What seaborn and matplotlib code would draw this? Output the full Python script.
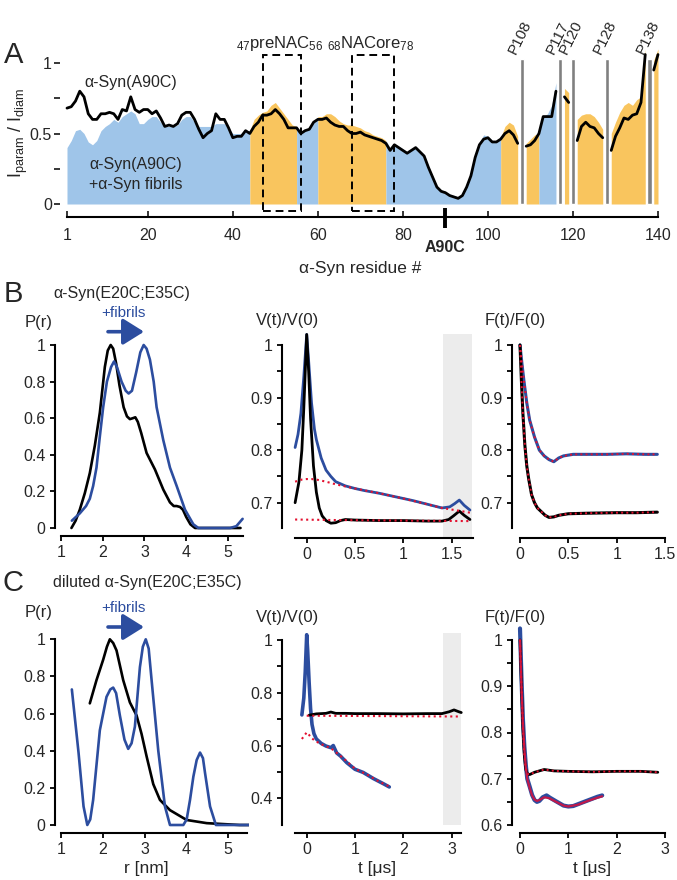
import numpy as np
import matplotlib
matplotlib.use("Agg")
import matplotlib.pyplot as plt
from matplotlib.patches import Rectangle, FancyArrowPatch
from matplotlib.ticker import FuncFormatter
import seaborn as sns

nan = np.nan

# ---------------- panel A: I_param / I_diam per residue ----------------
residues = np.arange(1, 141)
ratio_free = [
    0.68, 0.69, 0.73, 0.80, 0.76, 0.64, 0.60, 0.60, 0.64, 0.64,
    0.65, 0.64, 0.60, 0.67, 0.66, 0.76, 0.67, 0.65, 0.67, 0.67,
    0.64, 0.66, 0.61, 0.55, 0.56, 0.55, 0.57, 0.63, 0.65, 0.65,
    0.60, 0.53, 0.47, 0.50, 0.52, 0.64, 0.60, 0.60, 0.54, 0.47,
    0.48, 0.48, 0.52, 0.50, 0.55, 0.58, 0.63, 0.63, 0.64, 0.67,
    0.64, 0.60, 0.54, 0.54, 0.54, 0.50, 0.52, 0.53, 0.58, 0.60,
    0.60, 0.61, 0.58, 0.56, 0.55, 0.55, 0.52, 0.50, 0.50, 0.51,
    0.49, 0.48, 0.47, 0.46, 0.45, 0.43, 0.38, 0.42, 0.40, 0.38,
    0.36, 0.38, 0.40, 0.37, 0.34, 0.26, 0.19, 0.12, 0.09, 0.08,
    0.06, 0.05, 0.04, 0.06, 0.12, 0.20, 0.33, 0.42, 0.46, 0.47,
    0.44, 0.44, 0.46, 0.50, 0.52, 0.49, 0.43, nan, 0.41, 0.42,
    0.45, 0.50, 0.62, 0.62, 0.62, 0.80, nan, 0.76, 0.72, nan,
    0.45, 0.55, 0.58, 0.55, 0.54, 0.50, 0.47, nan, 0.38, 0.48,
    0.54, 0.61, 0.60, 0.63, 0.64, 0.72, 1.06, nan, 0.95, 1.06,
]
ratio_fibrils = [
    0.40, 0.45, 0.52, 0.53, 0.50, 0.44, 0.42, 0.45, 0.52, 0.55,
    0.57, 0.60, 0.58, 0.62, 0.64, 0.66, 0.64, 0.57, 0.57, 0.60,
    0.62, 0.62, 0.58, 0.55, 0.55, 0.55, 0.56, 0.60, 0.62, 0.62,
    0.58, 0.55, 0.55, 0.55, 0.55, 0.57, 0.57, 0.57, 0.54, 0.50,
    0.50, 0.50, 0.52, 0.52, 0.60, 0.63, 0.65, 0.66, 0.70, 0.72,
    0.68, 0.64, 0.60, 0.56, 0.55, 0.51, 0.52, 0.53, 0.58, 0.62,
    0.62, 0.64, 0.64, 0.62, 0.59, 0.57, 0.56, 0.56, 0.55, 0.54,
    0.52, 0.51, 0.49, 0.48, 0.47, 0.45, 0.40, 0.42, 0.41, 0.39,
    0.37, 0.39, 0.41, 0.38, 0.35, 0.27, 0.20, 0.13, 0.10, 0.09,
    0.07, 0.06, 0.05, 0.07, 0.13, 0.22, 0.35, 0.44, 0.49, 0.48,
    0.45, 0.45, 0.47, 0.55, 0.58, 0.56, 0.48, nan, 0.43, 0.46,
    0.49, 0.50, 0.62, 0.64, 0.70, 0.86, nan, 0.82, 0.79, nan,
    0.60, 0.63, 0.64, 0.64, 0.62, 0.58, 0.53, nan, 0.50, 0.58,
    0.65, 0.70, 0.72, 0.70, 0.74, 0.76, 1.10, nan, 1.02, 1.10,
]
# (first residue, last residue, region type) of the coloured fill
fill_segments = [(1, 44, 'blue'), (44, 55, 'orange'), (55, 60, 'blue'), (60, 76, 'orange'),
                 (76, 103, 'blue'), (103, 107, 'orange'), (109, 112, 'orange'), (112, 116, 'blue'),
                 (118, 119, 'orange'), (121, 127, 'orange'), (129, 137, 'orange'), (139, 140, 'orange')]
prolines = [108, 117, 120, 128, 138]
peptide_boxes = [(47, 56, r'$_{47}$preNAC$_{56}$'), (68, 78, r'$_{68}$NACore$_{78}$')]
res_ticks = [1, 20, 40, 60, 80, 100, 120, 140]
label_site = 90

# ---------------- panel B: alpha-Syn(E20C;E35C) ----------------
rB_free = [1.25, 1.35, 1.45, 1.57, 1.69, 1.81, 1.93, 2.05, 2.12, 2.19, 2.25, 2.32, 2.40, 2.50, 2.58,
           2.65, 2.72, 2.78, 2.84, 2.92, 3.05, 3.25, 3.45, 3.61, 3.70, 3.77, 3.85, 3.92, 4.00, 4.10,
           4.21, 4.60, 5.00, 5.30]
pB_free = [0.00, 0.04, 0.10, 0.19, 0.30, 0.45, 0.63, 0.88, 0.97, 1.00, 0.98, 0.90, 0.78, 0.66, 0.61,
           0.595, 0.60, 0.605, 0.58, 0.52, 0.41, 0.32, 0.21, 0.14, 0.12, 0.12, 0.115, 0.10, 0.06, 0.02,
           0.00, 0.00, 0.00, 0.00]
rB_fib = [1.26, 1.45, 1.60, 1.69, 1.77, 1.85, 1.93, 2.01, 2.10, 2.20, 2.27, 2.34, 2.45, 2.55, 2.62,
          2.70, 2.80, 2.90, 2.98, 3.05, 3.13, 3.22, 3.29, 3.45, 3.61, 3.77, 3.97, 4.17, 4.29, 5.05,
          5.20, 5.35]
pB_fib = [0.04, 0.08, 0.12, 0.16, 0.23, 0.33, 0.50, 0.66, 0.80, 0.88, 0.91, 0.88, 0.80, 0.75, 0.735,
          0.75, 0.85, 0.96, 1.00, 0.98, 0.92, 0.80, 0.66, 0.48, 0.33, 0.23, 0.10, 0.02, 0.00, 0.00,
          0.01, 0.05]

tVB_fib = [-0.12, -0.09, -0.06, -0.03, 0.0, 0.02, 0.05, 0.08, 0.10, 0.15, 0.20, 0.25, 0.30, 0.40,
           0.50, 0.60, 0.75, 0.90, 1.00, 1.10, 1.25, 1.40, 1.48, 1.53, 1.58, 1.63, 1.69]
vVB_fib = [0.805, 0.83, 0.87, 0.94, 1.02, 0.97, 0.89, 0.84, 0.82, 0.785, 0.762, 0.75, 0.74, 0.732,
           0.727, 0.723, 0.718, 0.712, 0.708, 0.704, 0.697, 0.69, 0.692, 0.698, 0.705, 0.695, 0.686]
tVB_fibfit = [-0.12, -0.05, 0.0, 0.05, 0.10, 0.20, 0.30, 0.40, 0.50, 0.75, 1.00, 1.25, 1.40, 1.50, 1.60, 1.69]
vVB_fibfit = [0.740, 0.744, 0.745, 0.745, 0.744, 0.740, 0.735, 0.731, 0.727, 0.718, 0.708, 0.697,
              0.690, 0.687, 0.684, 0.681]
tVB_free = [-0.12, -0.08, -0.05, -0.03, 0.0, 0.02, 0.04, 0.07, 0.10, 0.13, 0.16, 0.20, 0.25, 0.30,
            0.35, 0.40, 0.50, 0.75, 1.00, 1.25, 1.40, 1.47, 1.52, 1.58, 1.63, 1.69]
vVB_free = [0.70, 0.74, 0.80, 0.88, 1.02, 0.95, 0.86, 0.77, 0.72, 0.69, 0.675, 0.666, 0.661, 0.662,
            0.666, 0.668, 0.667, 0.666, 0.666, 0.665, 0.665, 0.668, 0.675, 0.684, 0.676, 0.668]
tVB_freefit = [-0.12, 0.30, 1.69]
vVB_freefit = [0.668, 0.667, 0.665]
bandB = (1.41, 1.71)

tFB_fib = [0.0, 0.02, 0.04, 0.07, 0.10, 0.15, 0.20, 0.25, 0.30, 0.35, 0.40, 0.45, 0.55, 0.70, 0.90,
           1.10, 1.30, 1.42]
vFB_fib = [1.0, 0.965, 0.933, 0.89, 0.857, 0.825, 0.80, 0.789, 0.782, 0.778, 0.785, 0.789, 0.792,
           0.792, 0.792, 0.793, 0.792, 0.792]
tFB_free = [0.0, 0.015, 0.03, 0.05, 0.07, 0.09, 0.12, 0.15, 0.18, 0.22, 0.26, 0.30, 0.35, 0.40, 0.50,
            0.70, 1.00, 1.20, 1.42]
vFB_free = [1.0, 0.93, 0.87, 0.81, 0.77, 0.745, 0.715, 0.70, 0.69, 0.683, 0.676, 0.672, 0.673, 0.676,
            0.679, 0.68, 0.681, 0.681, 0.682]

# ---------------- panel C: diluted alpha-Syn(E20C;E35C) ----------------
rC_free = [1.69, 1.85, 2.01, 2.10, 2.17, 2.25, 2.33, 2.49, 2.65, 2.81, 2.93, 3.05, 3.21, 3.37, 3.61,
           4.01, 4.49, 5.28, 5.50]
pC_free = [0.655, 0.78, 0.89, 0.96, 1.00, 0.98, 0.94, 0.78, 0.66, 0.59, 0.49, 0.37, 0.22, 0.135, 0.08,
           0.027, 0.01, 0.0, 0.0]
rC_fib = [1.26, 1.34, 1.42, 1.54, 1.63, 1.70, 1.77, 1.93, 2.09, 2.18, 2.25, 2.32, 2.41, 2.52, 2.61,
          2.69, 2.77, 2.89, 2.96, 3.03, 3.10, 3.17, 3.33, 3.49, 3.61, 3.93, 4.01, 4.09, 4.17, 4.25,
          4.33, 4.40, 4.45, 4.57, 4.71, 5.50]
pC_fib = [0.73, 0.56, 0.39, 0.10, 0.00, 0.03, 0.135, 0.51, 0.69, 0.73, 0.74, 0.71, 0.59, 0.46, 0.41,
          0.44, 0.53, 0.85, 0.96, 1.00, 0.95, 0.78, 0.40, 0.10, 0.00, 0.00, 0.03, 0.135, 0.26, 0.35,
          0.39, 0.36, 0.28, 0.10, 0.00, 0.00]

tVC_fib = [-0.10, -0.06, -0.03, 0.0, 0.02, 0.05, 0.08, 0.11, 0.15, 0.20, 0.30, 0.40, 0.50, 0.55, 0.62,
           0.70, 0.83, 1.00, 1.17, 1.38, 1.59, 1.71]
vVC_fib = [0.716, 0.78, 0.88, 1.02, 0.96, 0.84, 0.74, 0.68, 0.645, 0.625, 0.608, 0.598, 0.592, 0.60,
           0.572, 0.56, 0.535, 0.51, 0.498, 0.475, 0.455, 0.443]
tVC_fibfit = [-0.10, -0.05, 0.0, 0.05, 0.10, 0.20, 0.30, 0.50, 0.75, 1.00, 1.25, 1.50, 1.71]
vVC_fibfit = [0.625, 0.637, 0.65, 0.64, 0.628, 0.615, 0.605, 0.59, 0.553, 0.512, 0.49, 0.463, 0.445]
tVC_free = [0.05, 0.20, 0.40, 0.50, 0.60, 0.80, 1.00, 1.50, 2.00, 2.50, 2.80, 2.95, 3.05, 3.15, 3.20]
vVC_free = [0.715, 0.72, 0.722, 0.727, 0.722, 0.722, 0.721, 0.721, 0.72, 0.721, 0.721, 0.728, 0.735,
            0.728, 0.725]
tVC_freefit = [0.0, 3.20]
vVC_freefit = [0.713, 0.710]
bandC = (2.83, 3.20)

tFC_free = [0.0, 0.03, 0.06, 0.09, 0.12, 0.15, 0.20, 0.30, 0.50, 0.70, 1.00, 1.50, 2.00, 2.50, 2.85]
vFC_free = [1.0, 0.90, 0.81, 0.75, 0.72, 0.711, 0.709, 0.714, 0.72, 0.717, 0.716, 0.715, 0.716, 0.716, 0.714]
tFC_fib = [0.0, 0.03, 0.06, 0.09, 0.12, 0.15, 0.20, 0.25, 0.30, 0.35, 0.40, 0.47, 0.55, 0.62, 0.75,
           0.90, 1.00, 1.10, 1.20, 1.30, 1.40, 1.50, 1.60, 1.70]
vFC_fib = [1.025, 0.92, 0.83, 0.77, 0.73, 0.70, 0.683, 0.665, 0.654, 0.65, 0.652, 0.66, 0.664, 0.659,
           0.651, 0.642, 0.64, 0.641, 0.645, 0.649, 0.653, 0.657, 0.661, 0.664]
tFC_fibfit = [0.0, 0.03, 0.06, 0.09, 0.12, 0.15, 0.20, 0.25, 0.30, 0.35, 0.40, 0.50, 0.60, 0.75, 0.90,
              1.00, 1.20, 1.40, 1.60, 1.70]
vFC_fibfit = [1.0, 0.90, 0.82, 0.765, 0.725, 0.70, 0.68, 0.664, 0.655, 0.652, 0.654, 0.66, 0.658, 0.65,
              0.642, 0.64, 0.644, 0.652, 0.659, 0.662]

# ---------------- styling ----------------
W, H = 677, 880
BLUE_FILL = '#9fc5e9'
ORANGE_FILL = '#f9c55e'
LINE_BLUE = '#2c4d9f'
FIT_RED = '#e3102f'
GRAY_BAR = '#808080'
BAND = '#ececec'

sns.set_style("ticks")
plt.rcParams['font.family'] = ['Liberation Sans', 'DejaVu Sans']
plt.rcParams['mathtext.fontset'] = 'custom'
plt.rcParams['mathtext.rm'] = 'Liberation Sans'
plt.rcParams['mathtext.it'] = 'Liberation Sans'
plt.rcParams['mathtext.default'] = 'regular'

fig = plt.figure(figsize=(W / 100, H / 100), dpi=100)


def place(xlim, ylim, xcal, ycal):
    # axes box from two pixel calibration points per axis
    (xa, pxa), (xb, pxb) = xcal
    sx = (pxb - pxa) / (xb - xa)
    L, R = pxa + (xlim[0] - xa) * sx, pxa + (xlim[1] - xa) * sx
    (ya, pya), (yb, pyb) = ycal
    sy = (pyb - pya) / (yb - ya)
    B, T = pya + (ylim[0] - ya) * sy, pya + (ylim[1] - ya) * sy
    ax = fig.add_axes([L / W, 1 - B / H, (R - L) / W, (B - T) / H])
    ax.set_xlim(xlim)
    ax.set_ylim(ylim)
    return ax


def ftext(x, y, s, **kw):
    kw.setdefault('ha', 'center')
    kw.setdefault('va', 'center')
    fig.text(x / W, 1 - y / H, s, **kw)


fmt = FuncFormatter(lambda v, p: f'{v:g}')


def style(ax, left, lbounds, bottom, bbounds, yticks, yminor, xticks):
    sns.despine(ax=ax)
    ax.spines['left'].set_position(('data', left))
    ax.spines['left'].set_bounds(*lbounds)
    ax.spines['bottom'].set_position(('data', bottom))
    ax.spines['bottom'].set_bounds(*bbounds)
    for s in ('left', 'bottom'):
        ax.spines[s].set_linewidth(1.5)
        ax.spines[s].set_color('black')
    ax.set_yticks(yticks)
    ax.set_yticks(yminor, minor=True)
    ax.set_xticks(xticks)
    ax.xaxis.set_major_formatter(fmt)
    ax.yaxis.set_major_formatter(fmt)
    ax.tick_params(which='both', direction='out', length=3.5, width=1.3, color='black',
                   labelsize=11.5, pad=3)


def line(ax, x, y, color, lw, ls='-', zorder=3):
    sns.lineplot(x=x, y=y, ax=ax, color=color, lw=lw, ls=ls, sort=False, estimator=None,
                 zorder=zorder)


# ---------------- panel A ----------------
axA = place((-2, 141.5), (-0.12, 1.13), ((1, 67), (140, 658)), ((0, 204), (1, 63)))
free = np.array(ratio_free)
fib = np.array(ratio_fibrils)
for a, b, kind in fill_segments:
    m = (residues >= a) & (residues <= b)
    axA.fill_between(residues[m], 0, fib[m], color=BLUE_FILL if kind == 'blue' else ORANGE_FILL,
                     lw=0, zorder=1)
axA.bar(prolines, 1.03, width=1.0, color=GRAY_BAR, zorder=2)
ok = ~np.isnan(free)
breaks = np.split(np.arange(len(free)), np.where(~ok)[0])
for idx in breaks:
    idx = idx[ok[idx]]
    if len(idx) > 1:
        line(axA, residues[idx], free[idx], 'black', 2.0)
for a, b, lab in peptide_boxes:
    axA.add_patch(Rectangle((a, -0.047), b - a, 1.107, fill=False, ls=(0, (4, 2.5)), lw=1.4,
                            ec='black', zorder=4))
    axA.text((a + b) / 2 - 0.5, 1.14, lab, ha='center', va='center', fontsize=12, clip_on=False)
for p in prolines:
    axA.text(p - 0.8, 1.05, f'P{p}', rotation=64, rotation_mode='anchor', ha='left', va='bottom',
             fontsize=11, clip_on=False)
sns.despine(ax=axA, left=True)
axA.spines['left'].set_position(('data', -0.6))
axA.spines['bottom'].set_position(('data', -0.09))
axA.spines['bottom'].set_bounds(1, 140)
axA.spines['bottom'].set_linewidth(1.5)
axA.spines['bottom'].set_color('black')
axA.set_xticks(res_ticks)
axA.set_yticks([0, 0.5, 1])
axA.set_yticks([0.25, 0.75], minor=True)
axA.yaxis.set_major_formatter(fmt)
axA.tick_params(axis='x', direction='in', length=4, width=1.3, labelsize=11.5, pad=8)
axA.tick_params(axis='y', which='both', direction='out', length=4, width=1.3, labelsize=11.5, pad=2)
axA.plot([label_site, label_site], [-0.03, -0.17], color='black', lw=2.8, clip_on=False,
         solid_capstyle='butt')
axA.text(label_site, -0.31, f'A{label_site}C', ha='center', va='center', fontsize=11.5,
         weight='bold', clip_on=False)
ftext(14, 55, 'A', fontsize=21)
ftext(84, 82, 'α-Syn(A90C)', fontsize=11.5, ha='left')
ftext(89, 165, 'α-Syn(A90C)', fontsize=11.5, ha='left')
ftext(89, 184, '+α-Syn fibrils', fontsize=11.5, ha='left')
ftext(18, 133, r'$I_{param}$ / $I_{diam}$', fontsize=13, rotation=90)
ftext(360, 268, 'α-Syn residue #', fontsize=12.5)

# ---------------- panel B ----------------
axBP = place((0.8, 5.45), (-0.06, 1.05), ((1, 61), (5, 228)), ((0, 528), (1, 345)))
style(axBP, 0.85, (0, 1), -0.045, (1, 5.35), [0, 0.2, 0.4, 0.6, 0.8, 1], [], [1, 2, 3, 4, 5])
line(axBP, rB_free, pB_free, 'black', 1.9)
line(axBP, rB_fib, pB_fib, LINE_BLUE, 1.9)

axBV = place((-0.28, 1.76), (0.625, 1.03), ((0, 306.7), (1, 403.3)), ((0.7, 502.7), (1, 345)))
style(axBV, -0.26, (0.652, 1), 0.632, (-0.12, 1.72), [0.7, 0.8, 0.9, 1], [0.75, 0.85, 0.95],
      [0, 0.5, 1, 1.5])
axBV.fill_between(bandB, 0.632, 1.02, color=BAND, lw=0, zorder=0)
line(axBV, tVB_fib, vVB_fib, LINE_BLUE, 2.0)
line(axBV, tVB_free, vVB_free, 'black', 2.0)
line(axBV, tVB_fibfit, vVB_fibfit, FIT_RED, 1.5, ':', 4)
line(axBV, tVB_freefit, vVB_freefit, FIT_RED, 1.5, ':', 4)

axBF = place((-0.1, 1.55), (0.625, 1.03), ((0, 520), (1, 616.7)), ((0.7, 502.7), (1, 345)))
style(axBF, -0.086, (0.652, 1), 0.632, (0, 1.5), [0.7, 0.8, 0.9, 1], [0.75, 0.85, 0.95],
      [0, 0.5, 1, 1.5])
line(axBF, tFB_fib, vFB_fib, LINE_BLUE, 2.2)
line(axBF, tFB_fib, vFB_fib, FIT_RED, 1.4, ':', 4)
line(axBF, tFB_free, vFB_free, 'black', 2.2)
line(axBF, tFB_free, vFB_free, FIT_RED, 1.4, ':', 4)

ftext(13, 294, 'B', fontsize=21)
ftext(53, 293, 'α-Syn(E20C;E35C)', fontsize=11.5, ha='left')
ftext(123, 313, '+fibrils', fontsize=11, color=LINE_BLUE)
ftext(39, 322, 'P(r)', fontsize=12)
ftext(288, 320, 'V(t)/V(0)', fontsize=12)
ftext(515, 320, 'F(t)/F(0)', fontsize=12)

# ---------------- panel C ----------------
axCP = place((0.8, 5.5), (-0.06, 1.05), ((1, 61), (5, 228)), ((0, 825), (1, 639.3)))
style(axCP, 0.85, (0, 1), -0.043, (1, 5.45), [0, 0.2, 0.4, 0.6, 0.8, 1], [], [1, 2, 3, 4, 5])
line(axCP, rC_free, pC_free, 'black', 1.9)
line(axCP, rC_fib, pC_fib, LINE_BLUE, 1.9)

axCV = place((-0.55, 3.3), (0.265, 1.03), ((0, 306.7), (2, 403.3)), ((0.4, 798.3), (1, 640)))
style(axCV, -0.52, (0.3, 1), 0.267, (-0.25, 3.2), [0.4, 0.6, 0.8, 1], [0.5, 0.7, 0.9], [0, 1, 2, 3])
axCV.fill_between(bandC, 0.3, 1.027, color=BAND, lw=0, zorder=0)
line(axCV, tVC_fib, vVC_fib, LINE_BLUE, 2.6)
line(axCV, tVC_free, vVC_free, 'black', 2.0)
line(axCV, tVC_fibfit, vVC_fibfit, FIT_RED, 1.5, ':', 4)
line(axCV, tVC_freefit, vVC_freefit, FIT_RED, 1.5, ':', 4)

axCF = place((-0.2, 3.1), (0.58, 1.03), ((0, 520), (2, 616.7)), ((0.6, 825), (1, 640)))
style(axCF, -0.17, (0.6, 1), 0.582, (0, 3), [0.6, 0.7, 0.8, 0.9, 1], [0.65, 0.75, 0.85, 0.95],
      [0, 1, 2, 3])
line(axCF, tFC_fib, vFC_fib, LINE_BLUE, 3.0)
line(axCF, tFC_fibfit, vFC_fibfit, '#c0184a', 1.6, '-', 4)
line(axCF, tFC_free, vFC_free, 'black', 2.0)
line(axCF, tFC_free, vFC_free, FIT_RED, 1.4, ':', 4)

ftext(13, 583, 'C', fontsize=21)
ftext(53, 583, 'diluted α-Syn(E20C;E35C)', fontsize=11.5, ha='left')
ftext(123, 608, '+fibrils', fontsize=11, color=LINE_BLUE)
ftext(39, 612, 'P(r)', fontsize=12)
ftext(288, 617, 'V(t)/V(0)', fontsize=12)
ftext(515, 617, 'F(t)/F(0)', fontsize=12)
ftext(146, 868, 'r [nm]', fontsize=12.5)
ftext(377, 868, 't [μs]', fontsize=12.5)
ftext(592, 868, 't [μs]', fontsize=12.5)

for yy in (331.7, 627):
    fig.add_artist(FancyArrowPatch(
        (108 / W, 1 - yy / H), (144 / W, 1 - yy / H), transform=fig.transFigure,
        arrowstyle='-|>,head_length=0.8,head_width=0.5', mutation_scale=16, lw=2.6,
        color=LINE_BLUE, shrinkA=0, shrinkB=0))

fig.savefig('out.png', dpi=100)
